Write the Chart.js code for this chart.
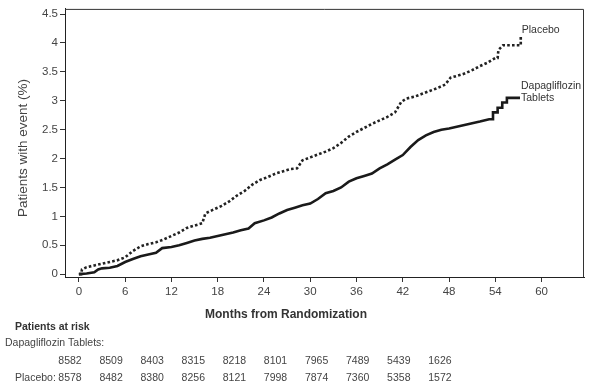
<!DOCTYPE html>
<html>
<head>
<meta charset="utf-8">
<script src="https://cdn.jsdelivr.net/npm/chart.js@4.4.1/dist/chart.umd.min.js"></script>
<style>
html,body{margin:0;padding:0;background:#fff;}
#wrap{width:589px;height:387px;position:relative;}
</style>
</head>
<body>
<div id="wrap"><canvas id="c" width="589" height="387"></canvas></div>
<script>
// ---- Data ----
const placeboMonths = [0,0.3,0.4,1,2,3,4,5,6,7,8,9,10,11,12,13,14,15,16,16.4,17.5,18.5,19.5,20.5,21.5,22.5,23.5,24.5,25.5,26.5,27.5,28.3,29,30,31,32,33,34,35,36,37,38,39,40,41,41.8,42.5,43.5,44.5,45.5,46.5,47.5,48.2,49,50,51,52,53,54,54.3,54.4,55,57.3,57.3];
const placeboPct    = [0,0,0.08,0.12,0.15,0.18,0.21,0.24,0.29,0.40,0.48,0.52,0.55,0.60,0.66,0.72,0.80,0.84,0.88,1.05,1.12,1.18,1.26,1.36,1.44,1.55,1.63,1.68,1.74,1.78,1.82,1.83,1.97,2.02,2.07,2.12,2.18,2.27,2.38,2.46,2.53,2.60,2.66,2.72,2.80,2.98,3.04,3.07,3.12,3.17,3.22,3.28,3.40,3.43,3.47,3.53,3.60,3.66,3.74,3.74,3.88,3.96,3.96,4.14];
const dapaMonths = [0,1,2,2.5,3,4,5,6,7,8,9,10,10.8,12,13,14,15,16,17,18,19,20,21,22,22.8,24,25,26,27,28,29,30,31,32,33,34,35,36,37,38,39,40,41,42,43,44,45,46,47,48,49,50,51,52,53.2,53.7,53.7,54.3,54.3,54.9,54.9,55.5,55.5,57.2];
const dapaPct    = [0,0.01,0.03,0.08,0.10,0.11,0.14,0.21,0.26,0.31,0.34,0.37,0.45,0.47,0.50,0.54,0.58,0.61,0.63,0.66,0.69,0.72,0.76,0.79,0.88,0.93,0.98,1.05,1.11,1.15,1.19,1.22,1.30,1.40,1.44,1.50,1.60,1.66,1.70,1.74,1.83,1.90,1.98,2.06,2.20,2.32,2.40,2.46,2.50,2.52,2.55,2.58,2.61,2.64,2.68,2.68,2.80,2.80,2.88,2.88,2.97,2.97,3.05,3.05];
const xTicks = [0,6,12,18,24,30,36,42,48,54,60];
const yTicks = [0,0.5,1,1.5,2,2.5,3,3.5,4,4.5];
const yTickLabels = ['0','0.5','1','1.5','2','2.5','3','3.5','4','4.5'];
const riskMonths = [0,6,12,18,24,30,36,42,48,54];
const riskDapa = [8582,8509,8403,8315,8218,8101,7965,7489,5439,1626];
const riskPlacebo = [8578,8482,8380,8256,8121,7998,7874,7360,5358,1572];
const seriesNames = ['Placebo','Dapagliflozin Tablets'];

const FONT = '"Liberation Sans", Arial, Helvetica, sans-serif';

const toPts = (xs, ys) => xs.map((x, i) => ({x: x, y: ys[i]}));

const textPlugin = {
  id: 'texts',
  afterDraw(chart) {
    const ctx = chart.ctx;
    const a = chart.chartArea;
    ctx.save();
    // frame top & right
    ctx.strokeStyle = '#333';
    ctx.lineWidth = 1;
    ctx.beginPath();
    ctx.moveTo(a.left, a.top + 0.5);
    ctx.lineTo(a.right - 0.5, a.top + 0.5);
    ctx.lineTo(a.right - 0.5, a.bottom);
    ctx.stroke();

    // series labels at line ends
    const xs = chart.scales.x, ys = chart.scales.y;
    ctx.fillStyle = '#333';
    ctx.font = '10.5px ' + FONT;
    ctx.textAlign = 'left';
    ctx.textBaseline = 'middle';
    const pEndX = xs.getPixelForValue(placeboMonths[placeboMonths.length - 1]);
    const pEndY = ys.getPixelForValue(placeboPct[placeboPct.length - 1]);
    ctx.fillText(seriesNames[0], pEndX + 1, pEndY - 5);
    const dEndX = xs.getPixelForValue(dapaMonths[dapaMonths.length - 1]);
    const dEndY = ys.getPixelForValue(dapaPct[dapaPct.length - 1]);
    ctx.fillText('Dapagliflozin', dEndX + 1, dEndY - 12);
    ctx.fillText('Tablets', dEndX + 1, dEndY);

    // y title
    ctx.save();
    ctx.translate(23, 148);
    ctx.rotate(-Math.PI / 2);
    ctx.textAlign = 'center';
    ctx.font = '13.5px ' + FONT;
    ctx.fillStyle = '#444';
    ctx.fillText('Patients with event (%)', 0, 0);
    ctx.restore();

    // x title
    ctx.textAlign = 'center';
    ctx.font = 'bold 12px ' + FONT;
    ctx.fillStyle = '#333';
    ctx.fillText('Months from Randomization', 286, 315);

    // at-risk table
    ctx.textAlign = 'left';
    ctx.font = 'bold 10.5px ' + FONT;
    ctx.fillText('Patients at risk', 15, 327);
    ctx.font = '10.5px ' + FONT;
    ctx.fillStyle = '#444';
    ctx.fillText(seriesNames[1] + ':', 5, 343);
    ctx.fillText(seriesNames[0] + ':', 15, 378);
    ctx.textAlign = 'center';
    riskMonths.forEach((m, i) => {
      const cx = 70 + i * 41.1;
      ctx.fillText(String(riskDapa[i]), cx, 361);
      ctx.fillText(String(riskPlacebo[i]), cx, 378);
    });
    ctx.restore();
  }
};

new Chart(document.getElementById('c'), {
  type: 'line',
  data: {
    datasets: [
      {
        label: seriesNames[0],
        data: toPts(placeboMonths, placeboPct),
        borderColor: '#222',
        borderWidth: 2.6,
        borderDash: [2.6, 2.2],
        tension: 0,
        pointRadius: 0,
        fill: false
      },
      {
        label: seriesNames[1],
        data: toPts(dapaMonths, dapaPct),
        borderColor: '#1a1a1a',
        borderWidth: 2.6,
        tension: 0,
        pointRadius: 0,
        fill: false
      }
    ]
  },
  options: {
    responsive: false,
    animation: false,
    devicePixelRatio: 1,
    layout: {padding: {top: 7, right: 5, left: 0, bottom: 0}},
    plugins: {legend: {display: false}, tooltip: {enabled: false}, title: {display: false}},
    scales: {
      x: {
        type: 'linear',
        min: -1.8,
        max: 65.5,
        afterBuildTicks: s => { s.ticks = xTicks.map(v => ({value: v})); },
        afterFit: s => { s.height = 110; },
        ticks: {color: '#444', font: {family: FONT, size: 11.5}, padding: 3, maxRotation: 0, autoSkip: false},
        grid: {drawOnChartArea: false, drawTicks: true, tickLength: 5, color: '#333'},
        border: {color: '#222', width: 1}
      },
      y: {
        type: 'linear',
        min: -0.05,
        max: 4.59,
        afterBuildTicks: s => { s.ticks = yTicks.map(v => ({value: v})); },
        afterFit: s => { s.width = 65; },
        ticks: {
          color: '#444', font: {family: FONT, size: 11.5}, padding: 2, autoSkip: false,
          callback: (v) => { const i = yTicks.indexOf(v); return i >= 0 ? yTickLabels[i] : ''; }
        },
        grid: {drawOnChartArea: false, drawTicks: true, tickLength: 5, color: '#333'},
        border: {color: '#222', width: 1}
      }
    }
  },
  plugins: [textPlugin]
});
</script>
</body>
</html>
